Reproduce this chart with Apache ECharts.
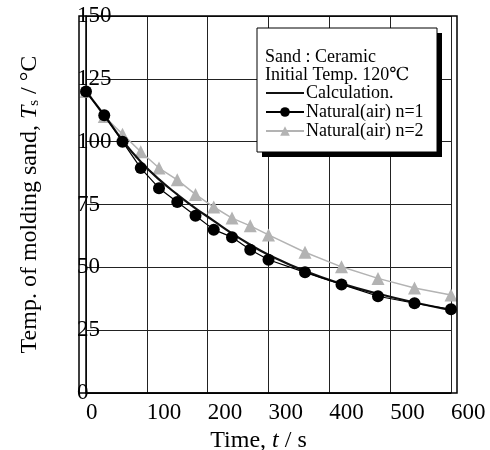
<!DOCTYPE html>
<html>
<head>
<meta charset="utf-8">
<script src="https://cdn.jsdelivr.net/npm/echarts@6/dist/echarts.min.js"></script>
<style>
  html, body { margin: 0; padding: 0; background: #fff; }
  #myChart { width: 490px; height: 450px; }
</style>
</head>
<body>
<div id="myChart"></div>
<script>
// time points (s)
var timeCalc = [0, 30, 60, 90, 120, 150, 180, 210, 240, 270, 300, 360, 420, 480, 540, 600];
var tempCalc = [120, 110.5, 100.5, 92, 85, 79, 73.5, 68.5, 63.5, 59, 55, 48.5, 43.5, 39.5, 36, 33];

var timeN1 = [0, 30, 60, 90, 120, 150, 180, 210, 240, 270, 300, 360, 420, 480, 540, 600];
var tempN1 = [120, 110.5, 100, 89.5, 81.5, 76, 70.5, 65, 62, 57, 53, 48, 43.2, 38.5, 35.7, 33.3];

var timeN2 = [0, 30, 60, 90, 120, 150, 180, 210, 240, 270, 300, 360, 420, 480, 540, 600];
var tempN2 = [120, 110, 103, 96, 89.5, 84.8, 79, 74, 69.6, 66.5, 62.9, 56, 50.2, 45.6, 41.8, 39];

var seriesNames = ["Calculation.", "Natural(air) n=1", "Natural(air) n=2"];
var boxLines = ["Sand : Ceramic", "Initial Temp. 120\u2103"];

var FONT = "'Liberation Serif', 'DejaVu Serif', serif";

function pairs(xs, ys) {
  var out = [];
  for (var i = 0; i < xs.length; i++) {
    out.push([xs[i], ys[i]]);
  }
  return out;
}

var myChart = echarts.init(document.getElementById("myChart"));
var option = {
  backgroundColor: "#fff",
  animation: false,
  grid: { left: 86, right: 39, top: 16, bottom: 57, containLabel: false, outerBoundsMode: "none" },
  xAxis: {
    type: "value",
    min: 0,
    max: 600,
    interval: 100,
    name: "Time, {i|t} / s",
    nameLocation: "middle",
    nameGap: 30,
    nameTextStyle: {
      color: "#000",
      fontSize: 24,
      fontFamily: FONT,
      padding: [0, 20, 0, 0],
      rich: {
        i: { fontStyle: "italic", fontSize: 24, fontFamily: FONT, color: "#000" }
      }
    },
    axisLine: { lineStyle: { color: "#000", width: 1.5 } },
    axisTick: { show: false },
    splitLine: { lineStyle: { color: "#222", width: 1 } },
    axisLabel: {
      align: "left",
      margin: 8,
      color: "#000",
      fontSize: 23,
      fontFamily: FONT
    }
  },
  yAxis: {
    type: "value",
    min: 0,
    max: 150,
    interval: 25,
    name: "Temp. of molding sand, {i|T}{sub|s} / \u00b0C",
    nameLocation: "middle",
    nameGap: 44,
    nameTextStyle: {
      color: "#000",
      fontSize: 24,
      fontFamily: FONT,
      rich: {
        i: { fontStyle: "italic", fontSize: 24, fontFamily: FONT, color: "#000" },
        sub: { fontSize: 15, fontFamily: FONT, color: "#000", verticalAlign: "bottom", padding: [9, 0, 0, 0] }
      }
    },
    axisLine: { show: true, lineStyle: { color: "#000", width: 1.5 } },
    axisTick: { show: false },
    splitLine: { lineStyle: { color: "#222", width: 1 } },
    axisLabel: {
      align: "left",
      margin: 9,
      color: "#000",
      fontSize: 23,
      fontFamily: FONT
    }
  },
  legend: {
    orient: "vertical",
    left: 265,
    top: 84,
    padding: 0,
    itemGap: 1,
    itemWidth: 38,
    itemHeight: 12,
    z: 20,
    data: [
      // calculation has no marker, line only
      { name: seriesNames[0], itemStyle: { opacity: 0 } },
      seriesNames[1],
      seriesNames[2]
    ],
    textStyle: { color: "#000", fontSize: 18, fontFamily: FONT, padding: [0, 0, 0, -3] }
  },
  graphic: [
    // outer double frame
    {
      type: "rect",
      shape: { x: 79, y: 16, width: 378, height: 377 },
      style: { fill: "none", stroke: "#000", lineWidth: 1.5 },
      z: 5
    },
    // legend box shadow
    {
      type: "rect",
      shape: { x: 262, y: 33, width: 180, height: 124 },
      style: { fill: "#000" },
      z: 10
    },
    // legend box
    {
      type: "rect",
      shape: { x: 257, y: 28, width: 180, height: 124 },
      style: { fill: "#fff", stroke: "#000", lineWidth: 1 },
      z: 11
    },
    {
      type: "text",
      left: 265,
      top: 48,
      z: 20,
      style: { text: boxLines[0], font: "18px " + FONT, fill: "#000" }
    },
    {
      type: "text",
      left: 265,
      top: 66,
      z: 20,
      style: { text: boxLines[1], font: "18px " + FONT, fill: "#000" }
    }
  ],
  series: [
    {
      name: seriesNames[2],
      type: "line",
      data: pairs(timeN2, tempN2),
      symbol: "triangle",
      symbolSize: 13,
      z: 2,
      itemStyle: { color: "#b3b3b3" },
      lineStyle: { color: "#b3b3b3", width: 1.5 }
    },
    {
      name: seriesNames[0],
      type: "line",
      data: pairs(timeCalc, tempCalc),
      smooth: true,
      symbol: "none",
      z: 3,
      itemStyle: { color: "#000" },
      lineStyle: { color: "#111", width: 2.2 }
    },
    {
      name: seriesNames[1],
      type: "line",
      data: pairs(timeN1, tempN1),
      symbol: "circle",
      symbolSize: 12,
      z: 4,
      itemStyle: { color: "#000" },
      lineStyle: { color: "#000", width: 1.2 }
    }
  ]
};
myChart.setOption(option);
</script>
</body>
</html>
